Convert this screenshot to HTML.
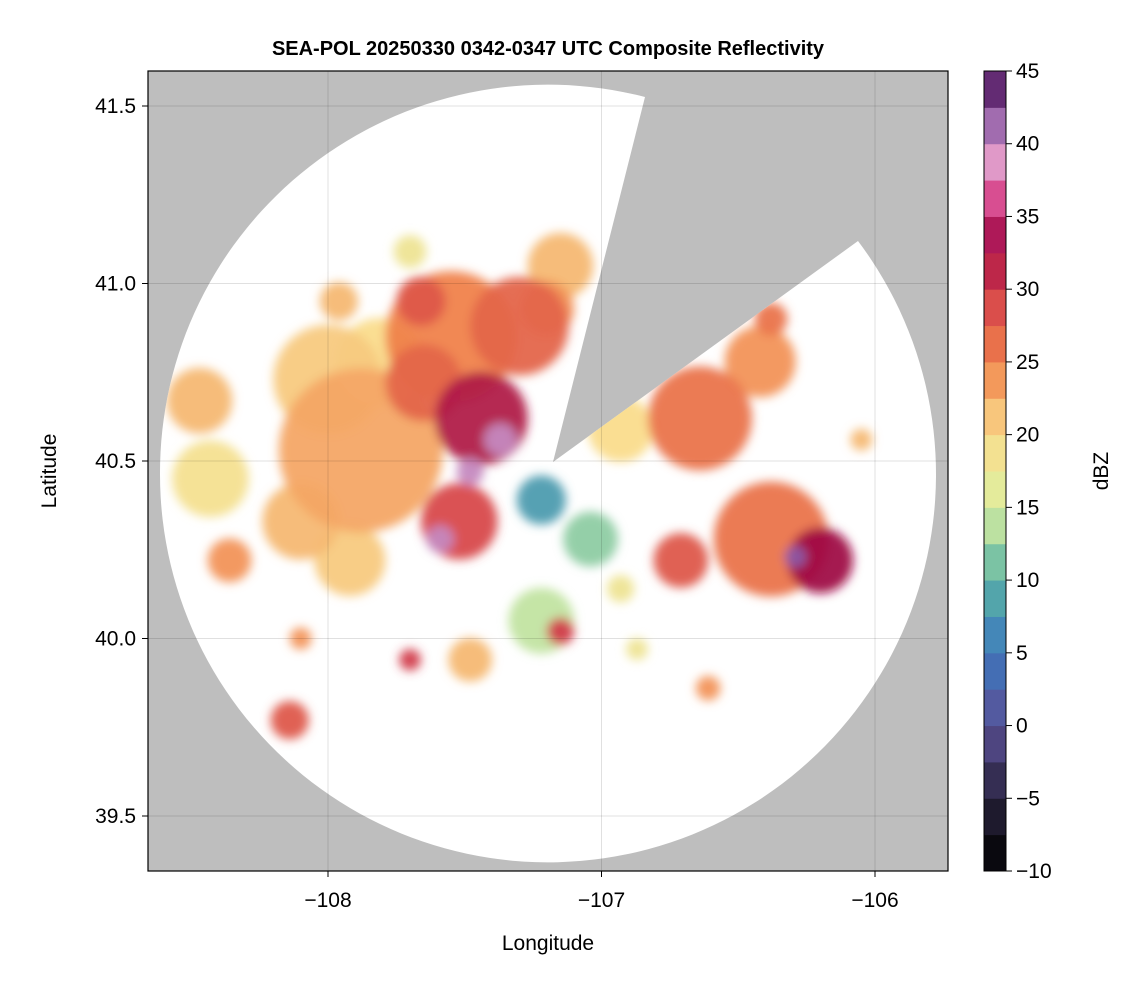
<!DOCTYPE html>
<html><head><meta charset="utf-8"><style>
body{margin:0;background:#fff;font-family:"Liberation Sans",sans-serif}
</style></head><body>
<svg width="1146" height="990" viewBox="0 0 1146 990" xmlns="http://www.w3.org/2000/svg" font-family="Liberation Sans, sans-serif">
<defs>
<clipPath id="plotclip"><rect x="148" y="71" width="800" height="800"/></clipPath>
<clipPath id="radarclip"><path id="radarshape" d=""/></clipPath>
<filter id="soft"><feGaussianBlur stdDeviation="5"/></filter>
</defs>
<text x="548" y="55" text-anchor="middle" font-size="20" font-weight="bold">SEA-POL 20250330 0342-0347 UTC Composite Reflectivity</text>
<rect x="148" y="71" width="800" height="800" fill="#bebebe"/>
<g clip-path="url(#plotclip)">
<path id="coverage" fill="#ffffff"/>
<g id="echoes" clip-path="url(#radarclip)" filter="url(#soft)"></g>
<g id="grid"></g>
</g>
<rect x="148" y="71" width="800" height="800" fill="none" stroke="#000" stroke-width="1.2"/>
<g id="axes" font-size="21"></g>
<text x="548" y="950" text-anchor="middle" font-size="21">Longitude</text>
<text transform="translate(56,471) rotate(-90)" text-anchor="middle" font-size="21">Latitude</text>
<g id="cbar"></g>
<text transform="translate(1108,471) rotate(-90)" text-anchor="middle" font-size="21">dBZ</text>
</svg>
<script>
const lonTicks=[-108,-107,-106];
const latTicks=[39.5,40.0,40.5,41.0,41.5];
const cbTicks=[-10,-5,0,5,10,15,20,25,30,35,40,45];
// echo blobs: lon, lat, radius (deg lon), dBZ
const blobLon=[-107.88,-108.00,-107.55,-107.30,-107.15,-107.44,-107.52,-107.81,-107.70,-108.47,-108.43,-108.36,-108.14,-108.10,-106.64,-106.93,-106.42,-106.38,-106.71,-106.20,-107.22,-107.04,-107.22,-107.15,-107.48,-107.70,-106.87,-106.61,-106.05,-106.38,-107.66,-107.96,-106.93,-107.48,-107.59,-107.37,-106.29,-108.10,-107.92,-107.65,-107.20];
const blobLat=[40.53,40.73,40.85,40.88,41.05,40.62,40.33,40.78,41.09,40.67,40.45,40.22,39.77,40.00,40.62,40.59,40.78,40.28,40.22,40.22,40.39,40.28,40.05,40.02,39.94,39.94,39.97,39.86,40.56,40.90,40.95,40.95,40.14,40.47,40.28,40.56,40.23,40.33,40.22,40.72,40.93];
const blobR=[0.30,0.20,0.24,0.18,0.12,0.17,0.14,0.16,0.06,0.12,0.14,0.08,0.07,0.04,0.19,0.12,0.13,0.21,0.10,0.12,0.09,0.10,0.12,0.05,0.08,0.04,0.04,0.045,0.04,0.06,0.09,0.07,0.05,0.05,0.05,0.06,0.04,0.14,0.13,0.14,0.10];
const blobDbz=[23,21,25,27,22,32,29,20,18,22,19,24,28,24,26,20,24,26,28,33,8,12,14,30,22,30,18,24,22,26,28,22,18,40,40,40,42,22,21,27,24];

const NS="http://www.w3.org/2000/svg";
const X=lon=>328+(lon+108)*273.5;
const Y=lat=>461-(lat-40.5)*355;
const stops=[[-10,[0,0,0]],[-5,[40,35,60]],[0,[90,80,150]],[5,[60,120,190]],[10,[90,180,165]],[15,[220,240,160]],[20,[250,220,140]],[25,[240,130,75]],[30,[210,60,75]],[33,[160,10,70]],[36,[215,70,140]],[39,[225,160,205]],[42,[140,90,165]],[45,[70,10,80]]];
function cmap(v){for(let i=0;i<stops.length-1;i++){const[a,ca]=stops[i],[b,cb]=stops[i+1];if(v<=b){const t=Math.max(0,(v-a)/(b-a));return`rgb(${ca.map((c,k)=>Math.round(c+(cb[k]-c)*t)).join(',')})`;}}return'rgb(70,10,80)';}
function el(t,a,p){const e=document.createElementNS(NS,t);for(const k in a)e.setAttribute(k,a[k]);p.appendChild(e);return e;}

const cx=548,cy=474,r=388;
const d=`M${cx-r},${cy} A${r},${r} 0 1,0 858,241 L553,462 L645,97 A${r},${r} 0 0,0 ${cx-r},${cy} Z`;
document.getElementById('coverage').setAttribute('d',d);
document.getElementById('radarshape').setAttribute('d',d);

const eg=document.getElementById('echoes');
const order=blobDbz.map((v,i)=>i).sort((a,b)=>blobDbz[a]-blobDbz[b]);
order.forEach(i=>{
  const c=el('circle',{cx:X(blobLon[i]),cy:Y(blobLat[i]),r:blobR[i]*273.5,fill:cmap(blobDbz[i]),opacity:0.95},eg);
  
  
});

const gg=document.getElementById('grid'),ax=document.getElementById('axes');
lonTicks.forEach(v=>{
  const l=el('line',{x1:X(v),x2:X(v),y1:71,y2:871,stroke:'#000','stroke-opacity':0.12},gg);
  
  el('line',{x1:X(v),x2:X(v),y1:871,y2:877,stroke:'#000'},ax);
  const t=el('text',{x:X(v),y:907,'text-anchor':'middle'},ax);t.textContent='\u2212'+Math.abs(v);
  
});
latTicks.forEach(v=>{
  const l=el('line',{x1:148,x2:948,y1:Y(v),y2:Y(v),stroke:'#000','stroke-opacity':0.12},gg);
  
  el('line',{x1:142,x2:148,y1:Y(v),y2:Y(v),stroke:'#000'},ax);
  const t=el('text',{x:136,y:Y(v)+7,'text-anchor':'end'},ax);t.textContent=v.toFixed(1);
  
});

const cb=document.getElementById('cbar');
const CY=v=>871-(v+10)/55*800;
for(let v=-10;v<45;v+=2.5){
  const rr=el('rect',{x:984,y:CY(v+2.5),width:22,height:CY(v)-CY(v+2.5)+0.5,fill:cmap(v+1.25)},cb);
  
}
el('rect',{x:984,y:71,width:22,height:800,fill:'none',stroke:'#000','stroke-width':1},cb);
cbTicks.forEach(v=>{
  el('line',{x1:1006,x2:1012,y1:CY(v),y2:CY(v),stroke:'#000'},cb);
  const t=el('text',{x:1016,y:CY(v)+7,'font-size':21},cb);t.textContent=v<0?'\u2212'+Math.abs(v):v;
  
});
</script>
</body></html>
